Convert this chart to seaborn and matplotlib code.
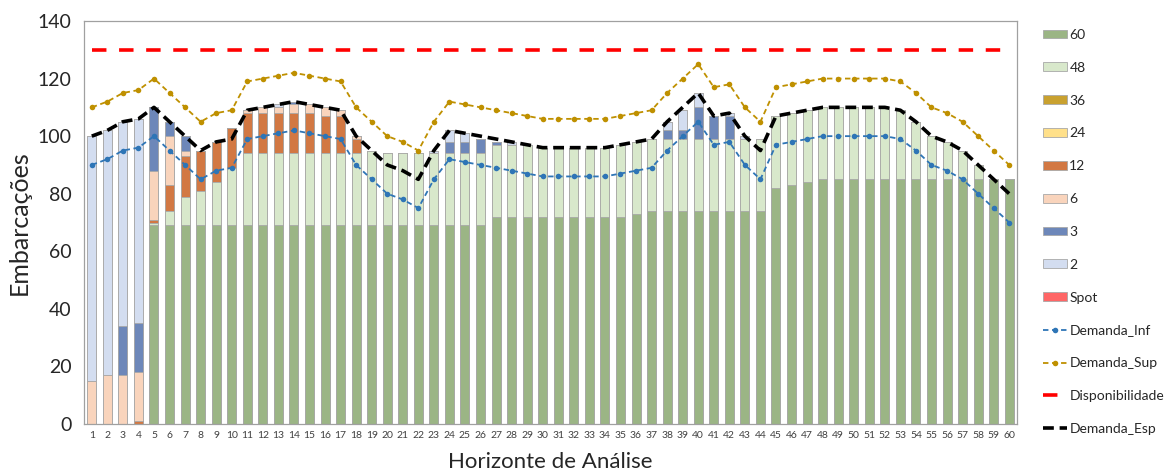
import numpy as np
import pandas as pd
import matplotlib
matplotlib.use("Agg")
import matplotlib.pyplot as plt
from matplotlib.patches import Patch
from matplotlib.lines import Line2D
import seaborn as sns

# ---- data -------------------------------------------------------------
periodos = [str(i) for i in range(1, 61)]

c60 = [0, 0, 0, 0, 69, 69, 69, 69, 69, 69,
       69, 69, 69, 69, 69, 69, 69, 69, 69, 69,
       69, 69, 69, 69, 69, 69, 72, 72, 72, 72,
       72, 72, 72, 72, 72, 73, 74, 74, 74, 74,
       74, 74, 74, 74, 82, 83, 84, 85, 85, 85,
       85, 85, 85, 85, 85, 85, 85, 85, 85, 85]
c48 = [0, 0, 0, 0, 1, 5, 10, 12, 15, 20,
       25, 25, 25, 25, 25, 25, 25, 25, 26, 25,
       25, 25, 25, 25, 25, 25, 25, 25, 25, 24,
       24, 24, 24, 24, 25, 25, 25, 25, 25, 25,
       25, 25, 25, 25, 25, 25, 25, 25, 25, 25,
       25, 25, 24, 20, 15, 13, 10, 5, 0, 0]
c36 = [0, 0, 0, 0, 0, 0, 0, 0, 0, 0,
       0, 0, 0, 0, 0, 0, 0, 0, 0, 0,
       0, 0, 0, 0, 0, 0, 0, 0, 0, 0,
       0, 0, 0, 0, 0, 0, 0, 0, 0, 0,
       0, 0, 0, 0, 0, 0, 0, 0, 0, 0,
       0, 0, 0, 0, 0, 0, 0, 0, 0, 0]
c24 = [0, 0, 0, 0, 0, 0, 0, 0, 0, 0,
       0, 0, 0, 0, 0, 0, 0, 0, 0, 0,
       0, 0, 0, 0, 0, 0, 0, 0, 0, 0,
       0, 0, 0, 0, 0, 0, 0, 0, 0, 0,
       0, 0, 0, 0, 0, 0, 0, 0, 0, 0,
       0, 0, 0, 0, 0, 0, 0, 0, 0, 0]
c12 = [0, 0, 0, 1, 1, 9, 14, 14, 14, 14,
       14, 14, 14, 14, 14, 13, 13, 5, 0, 0,
       0, 0, 0, 0, 0, 0, 0, 0, 0, 0,
       0, 0, 0, 0, 0, 0, 0, 0, 0, 0,
       0, 0, 0, 0, 0, 0, 0, 0, 0, 0,
       0, 0, 0, 0, 0, 0, 0, 0, 0, 0]
c6 = [15, 17, 17, 17, 17, 17, 2, 0, 0, 0,
      1, 2, 2, 3, 3, 3, 2, 1, 0, 0,
      0, 0, 0, 0, 0, 0, 0, 0, 0, 0,
      0, 0, 0, 0, 0, 0, 0, 0, 0, 0,
      0, 0, 0, 0, 0, 0, 0, 0, 0, 0,
      0, 0, 0, 0, 0, 0, 0, 0, 0, 0]
c3 = [0, 0, 17, 17, 22, 5, 5, 0, 0, 0,
      0, 0, 0, 1, 0, 0, 0, 0, 0, 0,
      0, 0, 0, 4, 4, 5, 1, 0, 0, 0,
      0, 0, 0, 0, 0, 0, 0, 3, 3, 11,
      8, 8, 0, 0, 0, 0, 0, 0, 0, 0,
      0, 0, 0, 0, 0, 0, 0, 0, 0, 0]
c2 = [85, 85, 71, 71, 0, 0, 0, 0, 0, 0,
      0, 0, 1, 0, 0, 0, 0, 0, 0, 0,
      0, 0, 1, 4, 3, 0, 0, 1, 0, 0,
      0, 0, 0, 0, 0, 0, 0, 3, 7, 5,
      0, 1, 1, 0, 0, 0, 0, 0, 0, 0,
      0, 0, 0, 0, 0, 0, 0, 0, 0, 0]
spot = [0, 0, 0, 0, 0, 0, 0, 0, 0, 0,
        0, 0, 0, 0, 0, 0, 0, 0, 0, 0,
        0, 0, 0, 0, 0, 0, 0, 0, 0, 0,
        0, 0, 0, 0, 0, 0, 0, 0, 0, 0,
        0, 0, 0, 0, 0, 0, 0, 0, 0, 0,
        0, 0, 0, 0, 0, 0, 0, 0, 0, 0]

demanda_inf = [90, 92, 95, 96, 100, 95, 90, 85, 88, 89,
               99, 100, 101, 102, 101, 100, 99, 90, 85, 80,
               78, 75, 85, 92, 91, 90, 89, 88, 87, 86,
               86, 86, 86, 86, 87, 88, 89, 95, 100, 105,
               97, 98, 90, 85, 97, 98, 99, 100, 100, 100,
               100, 100, 99, 95, 90, 88, 85, 80, 75, 70]
demanda_sup = [110, 112, 115, 116, 120, 115, 110, 105, 108, 109,
               119, 120, 121, 122, 121, 120, 119, 110, 105, 100,
               98, 95, 105, 112, 111, 110, 109, 108, 107, 106,
               106, 106, 106, 106, 107, 108, 109, 115, 120, 125,
               117, 118, 110, 105, 117, 118, 119, 120, 120, 120,
               120, 120, 119, 115, 110, 108, 105, 100, 95, 90]
demanda_esp = [100, 102, 105, 106, 110, 105, 100, 95, 98, 99,
               109, 110, 111, 112, 111, 110, 109, 100, 95, 90,
               88, 85, 95, 102, 101, 100, 99, 98, 97, 96,
               96, 96, 96, 96, 97, 98, 99, 105, 110, 115,
               107, 108, 100, 95, 107, 108, 109, 110, 110, 110,
               110, 110, 109, 105, 100, 98, 95, 90, 85, 80]
disponibilidade = [130, 130, 130, 130, 130, 130, 130, 130, 130, 130,
                   130, 130, 130, 130, 130, 130, 130, 130, 130, 130,
                   130, 130, 130, 130, 130, 130, 130, 130, 130, 130,
                   130, 130, 130, 130, 130, 130, 130, 130, 130, 130,
                   130, 130, 130, 130, 130, 130, 130, 130, 130, 130,
                   130, 130, 130, 130, 130, 130, 130, 130, 130, 130]

y_ticks = [0, 20, 40, 60, 80, 100, 120, 140]

# ---- style ------------------------------------------------------------
sns.set_theme(style="white")
plt.rcParams["font.family"] = ["Lato", "DejaVu Sans"]

contratos = [
    ("60", c60, "#9BB585"),
    ("48", c48, "#D8E8CB"),
    ("36", c36, "#C9A12F"),
    ("24", c24, "#FFE08A"),
    ("12", c12, "#D27843"),
    ("6", c6, "#F9D4BC"),
    ("3", c3, "#6D87B9"),
    ("2", c2, "#D3DDF0"),
    ("Spot", spot, "#FF6666"),
]

fig = plt.figure(figsize=(11.66, 4.71), dpi=100)
ax = fig.add_axes([84 / 1166, 1 - 424 / 471, 933 / 1166, 403 / 471])

df = pd.DataFrame({"periodo": periodos})
for nome, vals, _ in contratos:
    df[nome] = vals

# stacked bars: draw cumulative totals from the top layer downwards
nomes = [c[0] for c in contratos]
cores = [c[2] for c in contratos]
cum = df[nomes].cumsum(axis=1)
for k in range(len(nomes) - 1, -1, -1):
    sns.barplot(x=df["periodo"], y=cum[nomes[k]], order=periodos,
                color=cores[k], saturation=1, width=0.58,
                edgecolor="#A8A8A8", linewidth=0.6, errorbar=None, ax=ax)

pos = np.arange(len(periodos))
sns.lineplot(x=pos, y=demanda_inf, ax=ax, color="#2E75B6", linewidth=1.3,
             linestyle=(0, (3, 2)), marker="o", markersize=4,
             markeredgewidth=0, sort=False)
sns.lineplot(x=pos, y=demanda_sup, ax=ax, color="#BF9000", linewidth=1.3,
             linestyle=(0, (3, 2)), marker="o", markersize=4,
             markeredgewidth=0, sort=False)
sns.lineplot(x=pos, y=disponibilidade, ax=ax, color="#FF0000", linewidth=2.6,
             linestyle=(0, (4, 3.5)), sort=False)
sns.lineplot(x=pos, y=demanda_esp, ax=ax, color="black", linewidth=2.6,
             linestyle=(0, (3, 1.6)), sort=False)

# ---- axes -------------------------------------------------------------
ax.set_xlim(-0.5, len(periodos) - 0.5)
ax.set_ylim(0, 140)
ax.set_yticks(y_ticks)
ax.set_yticklabels([str(v) for v in y_ticks], fontsize=14, color="#262626")
ax.set_xticks(pos)
ax.set_xticklabels(periodos, fontsize=7.5, color="#404040")
ax.tick_params(axis="both", length=0, pad=5)
ax.tick_params(axis="y", pad=9)
ax.set_xlabel("Horizonte de Análise", fontsize=16, color="#262626", labelpad=9)
ax.set_ylabel("Embarcações", fontsize=18, color="#262626", labelpad=5)
for side in ["top", "right", "left", "bottom"]:
    ax.spines[side].set_visible(True)
    ax.spines[side].set_color("#A0A0A0")
    ax.spines[side].set_linewidth(0.9)
ax.grid(False)

# ---- legend -----------------------------------------------------------
handles = [Patch(facecolor=c, edgecolor="#A8A8A8", linewidth=0.6, label=n)
           for n, _, c in contratos]
handles += [
    Line2D([], [], color="#2E75B6", lw=1.3, ls=(0, (3, 2)), marker="o",
           markersize=4, markeredgewidth=0, label="Demanda_Inf"),
    Line2D([], [], color="#BF9000", lw=1.3, ls=(0, (3, 2)), marker="o",
           markersize=4, markeredgewidth=0, label="Demanda_Sup"),
    Line2D([], [], color="#FF0000", lw=2.6, ls=(0, (4, 3.5)),
           label="Disponibilidade"),
    Line2D([], [], color="black", lw=2.6, ls=(0, (3, 1.6)),
           label="Demanda_Esp"),
]
fig.legend(handles=handles, loc="upper left",
           bbox_to_anchor=(1036 / 1166, 1 - 22 / 471), frameon=False,
           fontsize=10, labelspacing=1.5, handlelength=1.75,
           handleheight=0.6, handletextpad=0.15, borderpad=0)

fig.savefig("out.png", dpi=100)
